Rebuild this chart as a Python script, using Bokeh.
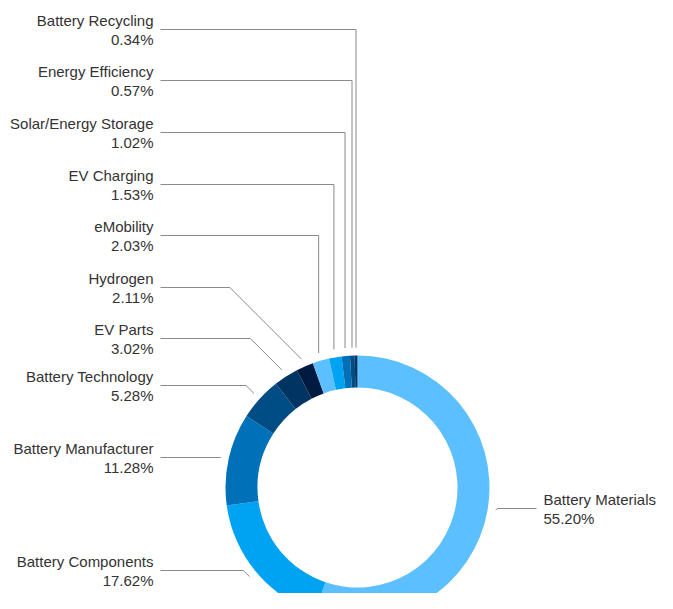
import math
from bokeh.plotting import figure
from bokeh.models import ColumnDataSource, Range1d
from bokeh.core.properties import value
from bokeh.embed import file_html
from bokeh.resources import INLINE

# ---- data ----
categories = ["Battery Materials", "Battery Components", "Battery Manufacturer",
              "Battery Technology", "EV Parts", "Hydrogen", "eMobility",
              "EV Charging", "Solar/Energy Storage", "Energy Efficiency",
              "Battery Recycling"]
shares = [55.20, 17.62, 11.28, 5.28, 3.02, 2.11, 2.03, 1.53, 1.02, 0.57, 0.34]

# ---- style / layout ----
palette = ["#5cbfff", "#00a2f2", "#0071b9", "#004c85", "#003463", "#001b3f"]
colors = [palette[i % len(palette)] for i in range(len(categories))]
label_side = ["right"] + ["left"] * 10
label_y_screen = [508, 570, 457, 385, 338, 287, 235, 184, 132, 80, 29]

W, H = 657, 593
cx, cy = 357, H - 487
r_in, r_out, r_conn = 100, 132, 140
left_text_x, left_line_x = 153, 160
right_line_x, right_text_x = 536, 543

total = sum(shares)
starts, ends, mids = [], [], []
acc = 0.0
for s in shares:
    a0 = acc / total
    acc += s
    a1 = acc / total
    starts.append(math.pi / 2 - 2 * math.pi * a0)
    ends.append(math.pi / 2 - 2 * math.pi * a1)
    mids.append(2 * math.pi * (a0 + a1) / 2)  # clockwise from top

p = figure(width=W, height=H, x_range=Range1d(0, W), y_range=Range1d(0, H),
           output_backend="svg", toolbar_location=None, min_border=0,
           x_axis_location=None, y_axis_location=None)
p.xgrid.visible = False
p.ygrid.visible = False
p.outline_line_color = None
p.background_fill_color = "white"

src = ColumnDataSource(dict(start=starts, end=ends, color=colors, cat=categories))
p.annular_wedge(x=cx, y=cy, inner_radius=r_in, outer_radius=r_out,
                start_angle="start", end_angle="end", direction="clock",
                fill_color="color", line_color=None, source=src)

xs, ys = [], []
tx, ty_name, ty_pct, names, pcts, aligns = [], [], [], [], [], []
for i, cat in enumerate(categories):
    th = mids[i]
    px = cx + r_conn * math.sin(th)
    py = cy + r_conn * math.cos(th)
    ly = H - label_y_screen[i]
    dy = abs(ly - py)
    if label_side[i] == "left":
        ex = px if dy > 100 else px - dy
        xs.append([left_line_x, ex, px])
        tx.append(left_text_x)
        aligns.append("right")
    else:
        ex = px if dy > 100 else px + dy
        xs.append([right_line_x, ex, px])
        tx.append(right_text_x)
        aligns.append("left")
    ys.append([ly, ly, py])
    ty_name.append(ly + 9.5)
    ty_pct.append(ly - 9.5)
    names.append(cat)
    pcts.append(f"{shares[i]:.2f}%")

p.multi_line(xs=xs, ys=ys, line_color="#8a8a8a", line_width=1)

lab = ColumnDataSource(dict(x=tx, yn=ty_name, yp=ty_pct, name=names, pct=pcts, align=aligns))
for ycol, tcol in (("yn", "name"), ("yp", "pct")):
    p.text(x="x", y=ycol, text=tcol, text_align="align", text_baseline="alphabetic",
           text_font=value("Liberation Sans"), text_font_size="15px",
           text_color="#333333", source=lab)

open("out.html", "w").write(file_html(p, INLINE))
